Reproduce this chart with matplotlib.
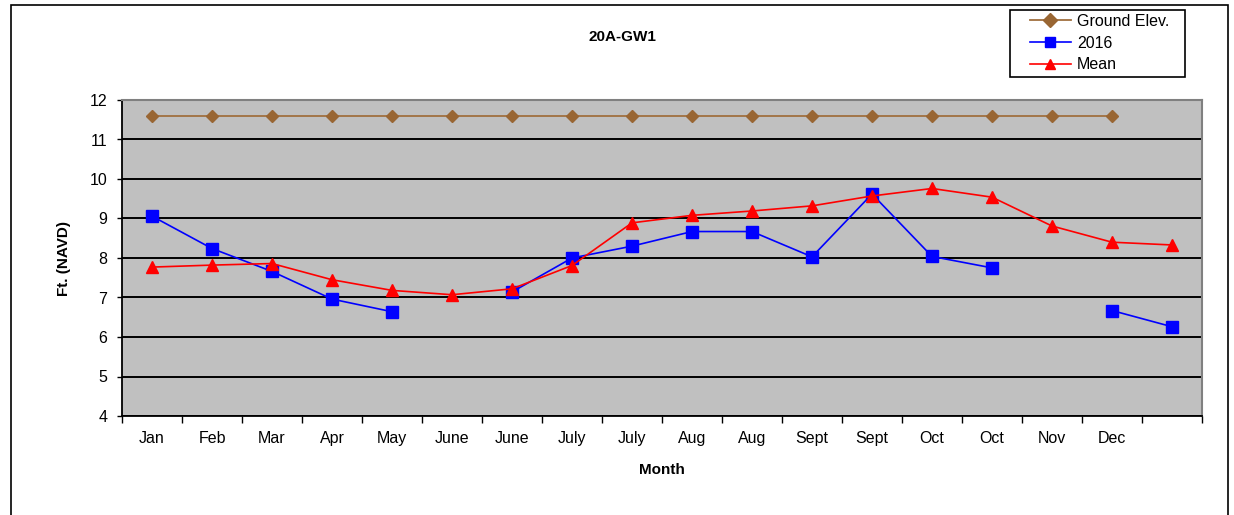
import numpy as np
import matplotlib
matplotlib.use("Agg")
import matplotlib.pyplot as plt
import matplotlib.patches as mpatches

months = ["Jan", "Feb", "Mar", "Apr", "May", "June", "June", "July", "July",
          "Aug", "Aug", "Sept", "Sept", "Oct", "Oct", "Nov", "Dec", ""]

nan = np.nan
ground_elev = [11.6] * 17 + [nan]
y2016 = [9.06, 8.24, 7.66, 6.96, 6.64, nan, 7.14, 8.0, 8.30,
         8.67, 8.67, 8.03, 9.62, 8.04, 7.75, nan, 6.67, 6.26]
mean = [7.77, 7.82, 7.86, 7.45, 7.18, 7.07, 7.22, 7.81, 8.89,
        9.08, 9.19, 9.32, 9.57, 9.76, 9.54, 8.81, 8.40, 8.33]

plt.rcParams["font.family"] = ["Liberation Sans", "DejaVu Sans"]

W, H = 1234, 515
fig = plt.figure(figsize=(W / 100, H / 100), dpi=100)

# outer chart border
fig.patches.append(mpatches.Rectangle((11 / W, -0.05), 1217 / W, 1.05 - 5 / H,
                                      transform=fig.transFigure, fill=False,
                                      edgecolor="black", linewidth=1.2))
# legend box
fig.patches.append(mpatches.Rectangle((1010 / W, 1 - 77 / H), 175 / W, 67 / H,
                                      transform=fig.transFigure, fill=False,
                                      edgecolor="black", linewidth=1.2))

ax = fig.add_axes([122 / W, (H - 416) / H, 1080 / W, 316 / H])
ax.set_facecolor("#C0C0C0")

x = np.arange(len(months))
ax.plot(x, ground_elev, color="#A0703F", marker="D", markersize=6,
        markerfacecolor="#996633", markeredgecolor="#996633", linewidth=1.3,
        label="Ground Elev.", zorder=3)
ax.plot(x, y2016, color="#0000FF", marker="s", markersize=8, linewidth=1.2,
        label="2016", zorder=4)
ax.plot(x, mean, color="#FF0000", marker="^", markersize=8, linewidth=1.2,
        label="Mean", zorder=5)

ax.set_xlim(-0.5, len(months) - 0.5)
ax.set_ylim(4, 12)
ax.set_yticks(range(4, 13))
ax.yaxis.grid(True, color="black", linewidth=1.4)
ax.set_axisbelow(True)

ax.set_xticks(np.arange(-0.5, len(months)), minor=False)
ax.set_xticklabels([])
ax.set_xticks(x, minor=True)
ax.set_xticklabels(months, minor=True)
ax.tick_params(axis="x", which="major", direction="out", length=5, width=1)
ax.tick_params(axis="x", which="minor", length=0, pad=11, labelsize=11.5)
ax.tick_params(axis="y", direction="out", length=3.6, width=1, pad=7, labelsize=11.5)

ax.spines["left"].set_color("black")
ax.spines["bottom"].set_color("black")
ax.spines["left"].set_linewidth(1.3)
ax.spines["bottom"].set_linewidth(1.3)
ax.spines["top"].set_color("#808080")
ax.spines["right"].set_color("#808080")
ax.spines["top"].set_linewidth(1.5)
ax.spines["right"].set_linewidth(1.5)

ax.set_xlabel("Month", fontsize=11, fontweight="bold", labelpad=12)
ax.set_ylabel("Ft. (NAVD)", fontsize=11, fontweight="bold", labelpad=13)
fig.text(622 / W, 1 - 37 / H, "20A-GW1", ha="center", va="center",
         fontsize=11, fontweight="bold")

leg = fig.legend(loc="upper left", bbox_to_anchor=(1030 / W, 1 - 14 / H),
                 fontsize=11.5, frameon=False, borderpad=0,
                 handlelength=2.55, labelspacing=0.42, handletextpad=0.4,
                 borderaxespad=0)
for h in leg.legend_handles:
    h.set_markersize(7)

fig.savefig("out.png", dpi=100)
